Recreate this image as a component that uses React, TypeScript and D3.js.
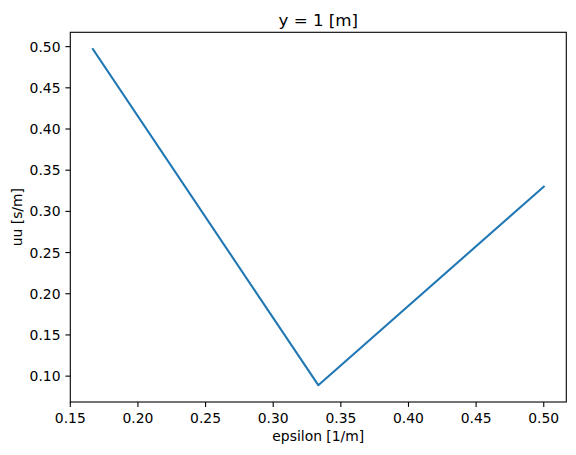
import React from "react";
import * as d3 from "d3";

const epsilon = [1 / 6, 1 / 3, 1 / 2];
const uu = [0.497, 0.089, 0.33];
const xTicks = [0.15, 0.2, 0.25, 0.3, 0.35, 0.4, 0.45, 0.5];
const yTicks = [0.1, 0.15, 0.2, 0.25, 0.3, 0.35, 0.4, 0.45, 0.5];
const title = "y = 1 [m]";
const xLabel = "epsilon [1/m]";
const yLabel = "uu [s/m]";

const W = 576;
const H = 455;
const L = 70.3;
const R = 566.3;
const T = 32.3;
const B = 402;
const FONT = "DejaVu Sans, sans-serif";

function padDomain(v: number[]): [number, number] {
  const [a, b] = d3.extent(v) as [number, number];
  const m = (b - a) * 0.05;
  return [a - m, b + m];
}

export default function App() {
  const x = d3.scaleLinear().domain(padDomain(epsilon)).range([L, R]);
  const y = d3.scaleLinear().domain(padDomain(uu)).range([B, T]);
  const pts = epsilon.map((e, i) => [e, uu[i]] as [number, number]);
  const line = d3
    .line<[number, number]>()
    .x((d) => x(d[0]))
    .y((d) => y(d[1]));

  return (
    <svg
      width={W}
      height={H}
      style={{ position: "absolute", left: 0, top: 0, background: "#fff" }}
      fontFamily={FONT}
    >
      <rect x={0} y={0} width={W} height={H} fill="#fff" />
      <path
        d={line(pts) || ""}
        fill="none"
        stroke="#1f77b4"
        strokeWidth={2.08}
        strokeLinecap="square"
        strokeLinejoin="round"
      />
      {xTicks.map((t) => (
        <g key={"x" + t}>
          <line x1={x(t)} x2={x(t)} y1={B} y2={B + 4.9} stroke="#000" strokeWidth={1.1} />
          <text x={x(t)} y={423} fontSize={13.9} textAnchor="middle" fill="#000">
            {t.toFixed(2)}
          </text>
        </g>
      ))}
      {yTicks.map((t) => (
        <g key={"y" + t}>
          <line x1={L - 4.9} x2={L} y1={y(t)} y2={y(t)} stroke="#000" strokeWidth={1.1} />
          <text
            x={L - 9.8}
            y={y(t)}
            dy="0.36em"
            fontSize={13.9}
            textAnchor="end"
            fill="#000"
          >
            {t.toFixed(2)}
          </text>
        </g>
      ))}
      <rect
        x={L}
        y={T}
        width={R - L}
        height={B - T}
        fill="none"
        stroke="#000"
        strokeWidth={1.1}
      />
      <text x={(L + R) / 2} y={25.5} fontSize={16.7} textAnchor="middle" fill="#000">
        {title}
      </text>
      <text x={(L + R) / 2} y={440.7} fontSize={13.9} textAnchor="middle" fill="#000">
        {xLabel}
      </text>
      <text
        transform={`translate(${21.5},${(T + B) / 2}) rotate(-90)`}
        fontSize={13.9}
        textAnchor="middle"
        fill="#000"
      >
        {yLabel}
      </text>
    </svg>
  );
}
